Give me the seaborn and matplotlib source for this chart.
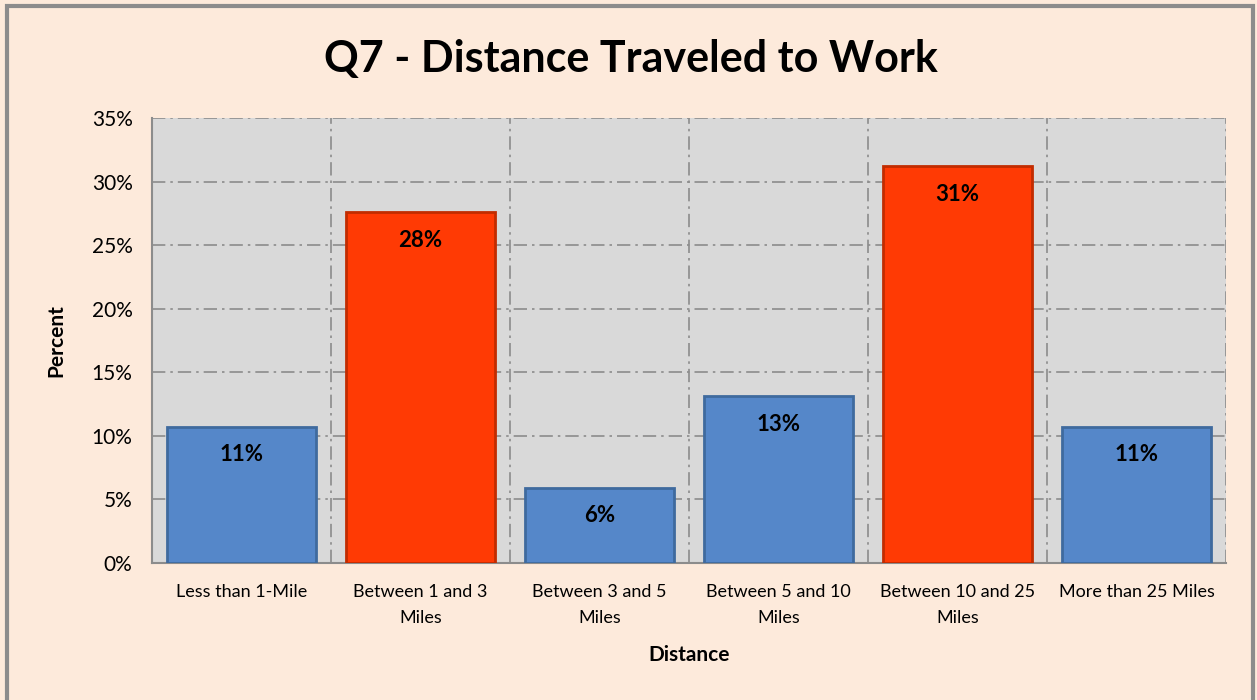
import matplotlib
matplotlib.use("Agg")
import matplotlib.pyplot as plt
import matplotlib.patches as mpatches
from matplotlib.ticker import PercentFormatter, FixedLocator
import seaborn as sns

categories = ["Less than 1-Mile", "Between 1 and 3\nMiles", "Between 3 and 5\nMiles",
              "Between 5 and 10\nMiles", "Between 10 and 25\nMiles", "More than 25 Miles"]
percents = [10.7, 27.6, 5.9, 13.1, 31.2, 10.7]
bar_colors = ["#5587C9", "#FF3A04", "#5587C9", "#5587C9", "#FF3A04", "#5587C9"]
edge_colors = ["#3F6A9E", "#C22C00", "#3F6A9E", "#3F6A9E", "#C22C00", "#3F6A9E"]

sns.set_style("white")
plt.rcParams["font.family"] = ["Lato", "DejaVu Sans"]
plt.rcParams["text.color"] = "black"
plt.rcParams["axes.labelcolor"] = "black"
plt.rcParams["xtick.labelcolor"] = "black"
plt.rcParams["ytick.labelcolor"] = "black"

fig = plt.figure(figsize=(12.57, 7.0), dpi=100)
fig.patch.set_facecolor("#FDEADB")
ax = fig.add_axes([152 / 1257, 137 / 700, (1226 - 152) / 1257, (563 - 118) / 700])
ax.set_facecolor("#D9D9D9")

sns.barplot(x=categories, y=percents, hue=categories, palette=bar_colors,
            legend=False, width=0.83, ax=ax, saturation=1, zorder=3)
for patch, ec in zip(ax.patches, edge_colors):
    patch.set_edgecolor(ec)
    patch.set_linewidth(2)

for i, v in enumerate(percents):
    ax.text(i, v - 2.2, f"{round(v)}%", ha="center", va="center",
            fontsize=16, fontweight="bold", color="black", zorder=4)

ax.set_ylim(0, 35)
ax.set_xlim(-0.5, 5.5)
ax.set_yticks(range(0, 36, 5))
ax.yaxis.set_major_formatter(PercentFormatter(decimals=0))
ax.xaxis.set_minor_locator(FixedLocator([i - 0.5 for i in range(7)]))
ax.tick_params(axis="x", which="major", length=0, labelsize=13, pad=15)
ax.tick_params(axis="x", which="minor", length=7, width=1.5, color="#8C8C8C", direction="out")
ax.tick_params(axis="y", length=8, width=1.5, color="#8C8C8C", direction="out", labelsize=15, pad=6)
ax.set_xticks(range(len(categories)))
ax.set_xticklabels(categories, linespacing=1.75)
ax.grid(axis="y", which="major", color="#8C8C8C", linestyle=(0, (8, 3, 1.5, 3)), linewidth=1.2, zorder=0)
ax.grid(axis="x", which="minor", color="#8C8C8C", linestyle=(0, (8, 3, 1.5, 3)), linewidth=1.2, zorder=0)
ax.set_axisbelow(True)

for side in ["top", "right"]:
    ax.spines[side].set_visible(False)
for side in ["left", "bottom"]:
    ax.spines[side].set_color("#8C8C8C")
    ax.spines[side].set_linewidth(1.5)

ax.set_xlabel("Distance", fontsize=15, fontweight="bold", labelpad=14)
ax.set_ylabel("Percent", fontsize=15, fontweight="bold", labelpad=18)
fig.suptitle("Q7 - Distance Traveled to Work", fontsize=31, fontweight="bold",
             color="black", x=0.502, y=0.945)

fig.patches.append(mpatches.Rectangle((7 / 1257, -0.02), (1253 - 7) / 1257, 694 / 700 + 0.02,
                                      transform=fig.transFigure, fill=False,
                                      edgecolor="#8C8C8C", linewidth=3))

fig.savefig("out.png", dpi=100, facecolor=fig.get_facecolor())
